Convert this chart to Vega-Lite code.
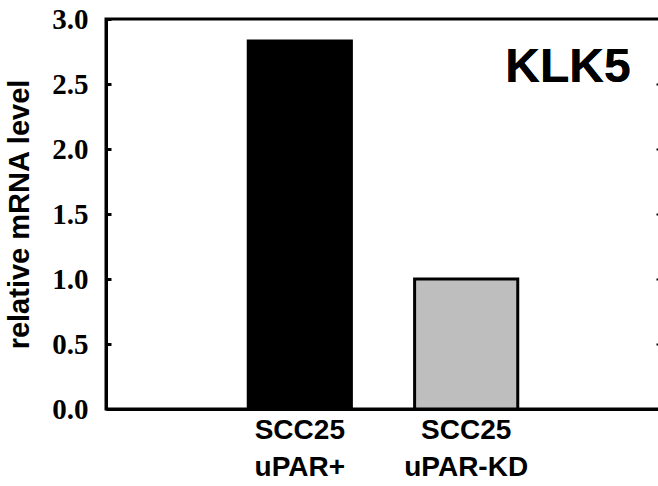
{
  "$schema": "https://vega.github.io/schema/vega-lite/v6.json",
  "width": 554,
  "height": 390,
  "autosize": {"type": "none"},
  "padding": {"left": 106, "top": 19, "right": 0, "bottom": 77},
  "background": "white",
  "config": {"view": {"stroke": "black", "strokeWidth": 3}, "font": "Liberation Sans"},
  "data": {"values": [
    {"group": "SCC25|uPAR+", "value": 2.83, "cls": "uPAR+"},
    {"group": "SCC25|uPAR-KD", "value": 1.0, "cls": "uPAR-KD"}
  ]},
  "layer": [
    {
      "mark": {"type": "bar", "stroke": "black", "strokeWidth": 3},
      "encoding": {
        "x": {"field": "group", "type": "nominal", "sort": null,
          "scale": {"paddingInner": 0.38, "paddingOuter": 0.855},
          "axis": {"title": null, "labelAngle": 0, "labelExpr": "split(datum.value, '|')", "labelFont": "Liberation Sans", "labelFontWeight": "bold", "labelFontSize": 28, "labelColor": "black", "labelLineHeight": 37, "labelPadding": 7, "labelDx": -5, "ticks": false, "domainColor": "black", "domainWidth": 3}},
        "y": {"field": "value", "type": "quantitative",
          "scale": {"domain": [0, 3], "nice": false},
          "axis": {"orient": "left", "values": [0, 0.5, 1, 1.5, 2, 2.5, 3], "format": ".1f", "grid": false, "labelFont": "Liberation Serif", "labelFontWeight": "bold", "labelFontSize": 29, "labelColor": "black", "labelPadding": 23, "tickSize": -5, "tickWidth": 3, "tickColor": "black", "domainColor": "black", "domainWidth": 3, "title": "relative mRNA level", "titleFont": "Liberation Sans", "titleFontWeight": "bold", "titleFontSize": 29, "titleColor": "black", "titlePadding": 17}},
        "fill": {"field": "cls", "type": "nominal", "scale": {"domain": ["uPAR+", "uPAR-KD"], "range": ["#000000", "#bebebe"]}, "legend": null}
      }
    },
    {
      "mark": {"type": "rule", "opacity": 0},
      "encoding": {
        "y": {"field": "value", "type": "quantitative",
          "scale": {"domain": [0, 3], "nice": false},
          "axis": {"orient": "right", "values": [0.5, 1, 1.5, 2, 2.5], "labels": false, "domain": false, "grid": false, "title": null, "tickSize": -4, "tickWidth": 2, "tickColor": "black"}}
      }
    },
    {
      "mark": {"type": "text", "text": "KLK5", "fontSize": 48, "font": "Liberation Sans", "fontWeight": "bold", "color": "black", "align": "center", "baseline": "alphabetic"},
      "encoding": {
        "x": {"datum": 0.834, "type": "quantitative", "scale": {"domain": [0, 1]}, "axis": null},
        "y": {"datum": 2.515, "type": "quantitative", "scale": {"domain": [0, 3], "nice": false}, "axis": null}
      }
    }
  ],
  "resolve": {"scale": {"y": "independent", "x": "independent"}, "axis": {"y": "independent", "x": "independent"}}
}
